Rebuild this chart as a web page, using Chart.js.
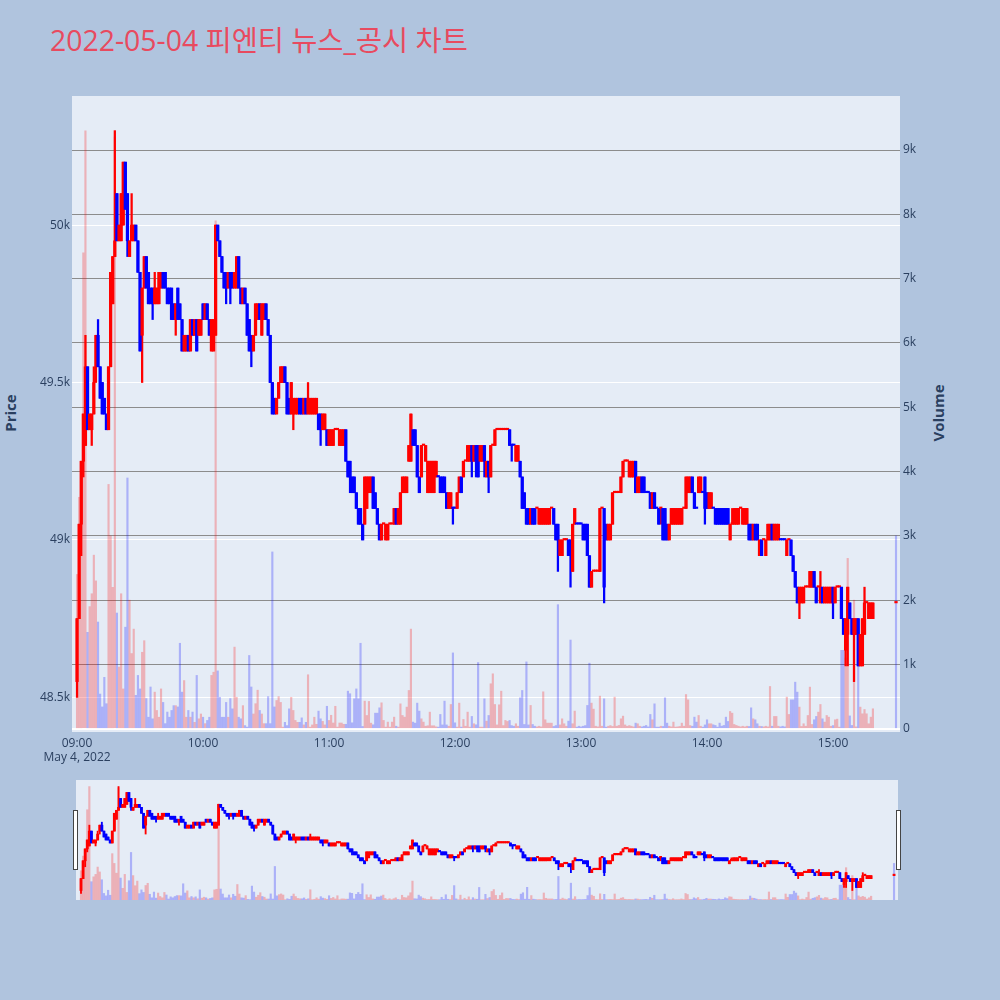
<!DOCTYPE html>
<html>
<head>
<meta charset="utf-8">
<script src="https://cdn.jsdelivr.net/npm/chart.js@4.4.0/dist/chart.umd.min.js"></script>
<style>
  html, body { margin:0; padding:0; width:1000px; height:1000px; overflow:hidden; background:#b0c4de;
               font-family:"Open Sans","Noto Sans CJK KR",sans-serif; }
  #title { position:absolute; left:50px; top:26px; font-size:28.4px; line-height:28px; color:#e84a5f; white-space:nowrap; }
  .axtitle { position:absolute; font-weight:bold; font-size:15px; color:#2a3f5f; white-space:nowrap;
             transform:translate(-50%,-50%) rotate(-90deg); }
  #main { position:absolute; left:0; top:0; }
  #slider { position:absolute; left:76px; top:780px; }
  .handle { position:absolute; top:810px; width:3px; height:58px; background:#fff; border:1px solid #444; }
</style>
</head>
<body>
<div id="title">2022-05-04 피엔티 뉴스_공시 차트</div>
<div class="axtitle" style="left:10px; top:413px;">Price</div>
<div class="axtitle" style="left:938px; top:413px;">Volume</div>
<canvas id="main" width="1000" height="780"></canvas>
<canvas id="slider" width="822" height="120"></canvas>
<div class="handle" style="left:73px;"></div>
<div class="handle" style="left:896px;"></div>
<script>
// one candle per minute from 09:00 (index = minutes after 09:00) up to 15:19
const openP = [
  48550,48750,49050,49250,49300,49550,49350,49350,49400,49550, // 09:00
  49650,49550,49500,49450,49400,49350,49550,49750,49900,50100,
  49950,49950,50000,50200,50100,49900,49950,49950,50000,49950,
  49850,49650,49800,49900,49850,49800,49800,49750,49750,49750,
  49800,49850,49850,49800,49800,49800,49750,49700,49800,49750,
  49700,49600,49600,49650,49600,49700,49650,49700,49650,49650,
  49750,49700,49750,49700,49600,49600,49650,50000,49950,49900, // 10:00
  49850,49850,49800,49850,49850,49800,49800,49900,49800,49750,
  49800,49750,49700,49650,49600,49650,49700,49750,49650,49700,
  49750,49700,49650,49500,49450,49400,49450,49500,49500,49550,
  49500,49450,49400,49400,49400,49400,49450,49450,49400,49450,
  49400,49400,49400,49400,49400,49400,49400,49350,49350,49350,
  49300,49300,49300,49350,49350,49300,49300,49300,49350,49250, // 11:00
  49250,49200,49200,49150,49100,49100,49050,49050,49100,49150,
  49150,49200,49150,49100,49050,49000,49050,49000,49000,49050,
  49050,49050,49100,49050,49050,49150,49150,49150,49250,49250,
  49350,49350,49300,49200,49200,49300,49250,49150,49150,49150,
  49150,49200,49200,49200,49200,49200,49150,49100,49100,49100,
  49100,49100,49150,49200,49200,49250,49250,49250,49300,49250, // 12:00
  49300,49300,49250,49250,49300,49200,49250,49200,49300,49300,
  49350,49350,49350,49350,49350,49350,49350,49300,49300,49250,
  49250,49250,49200,49150,49100,49100,49050,49100,49100,49100,
  49050,49050,49050,49050,49050,49050,49100,49100,49050,49050,
  48950,48950,49000,49000,49000,49000,48900,49050,49050,49050,
  49050,49050,49050,49050,48950,48850,48900,48900,48900,48900, // 13:00
  49100,49100,49050,49000,49000,49050,49150,49150,49150,49150,
  49200,49250,49250,49200,49200,49200,49250,49150,49150,49200,
  49200,49150,49150,49150,49100,49150,49100,49100,49100,49100,
  49100,49050,49000,49050,49050,49050,49050,49050,49050,49100,
  49100,49150,49150,49200,49150,49100,49150,49150,49150,49200,
  49150,49100,49100,49100,49100,49100,49100,49100,49100,49100, // 14:00
  49100,49000,49050,49050,49050,49050,49100,49050,49050,49050,
  49050,49050,49000,49050,49050,48950,49000,49000,48950,49000,
  49000,49050,49000,49000,49000,49000,49000,49000,48950,49000,
  49000,48950,48900,48850,48800,48800,48800,48850,48850,48850,
  48850,48900,48850,48850,48800,48850,48800,48800,48800,48800,
  48850,48800,48850,48850,48850,48750,48650,48700,48800,48750, // 15:00
  48700,48700,48750,48600,48600,48700,48800,48750,48750,48750
];
const highP = [
  48750,49050,49250,49400,49650,49550,49400,49400,49550,49650,
  49700,49550,49500,49450,49400,49550,49850,49900,50300,50100,
  50000,50100,50200,50200,50100,49950,50100,50000,50000,49950,
  49850,49800,49900,49900,49850,49800,49800,49850,49800,49850,
  49850,49850,49850,49800,49800,49800,49750,49750,49800,49750,
  49700,49650,49650,49650,49700,49700,49700,49700,49700,49700,
  49750,49750,49750,49700,49700,49700,50000,50000,49950,49900,
  49850,49850,49850,49850,49850,49850,49900,49900,49800,49800,
  49800,49750,49700,49650,49650,49750,49750,49750,49750,49750,
  49750,49700,49650,49500,49450,49450,49500,49550,49550,49550,
  49500,49450,49500,49450,49450,49450,49450,49450,49450,49450,
  49500,49450,49450,49450,49450,49400,49400,49400,49400,49350,
  49350,49350,49350,49350,49350,49350,49350,49350,49350,49250,
  49250,49200,49200,49150,49100,49100,49050,49200,49200,49200,
  49200,49200,49150,49100,49050,49050,49050,49050,49050,49050,
  49050,49100,49100,49100,49150,49200,49200,49200,49300,49400,
  49350,49350,49300,49200,49300,49300,49300,49250,49250,49250,
  49250,49250,49200,49200,49200,49200,49150,49150,49150,49100,
  49100,49150,49200,49200,49250,49250,49300,49300,49300,49300,
  49300,49300,49300,49300,49300,49250,49250,49300,49300,49350,
  49350,49350,49350,49350,49350,49350,49350,49300,49300,49300,
  49300,49250,49200,49150,49100,49100,49100,49100,49100,49100,
  49100,49100,49100,49100,49100,49100,49100,49100,49050,49050,
  49000,49000,49000,49000,49000,49000,49050,49100,49050,49050,
  49050,49050,49050,49050,48950,48900,48900,48900,48900,49100,
  49100,49100,49050,49050,49050,49150,49150,49150,49150,49200,
  49250,49250,49250,49250,49250,49250,49250,49200,49200,49200,
  49200,49150,49150,49150,49150,49150,49100,49100,49100,49100,
  49100,49050,49050,49100,49100,49100,49100,49100,49100,49100,
  49200,49200,49200,49200,49150,49100,49200,49200,49150,49200,
  49150,49150,49150,49100,49100,49100,49100,49100,49100,49100,
  49100,49050,49100,49100,49100,49100,49100,49100,49100,49100,
  49050,49050,49050,49050,49050,49000,49000,49000,49000,49050,
  49050,49050,49050,49050,49050,49000,49000,49000,49000,49000,
  49000,48950,48900,48850,48850,48850,48850,48850,48850,48900,
  48900,48900,48850,48850,48900,48850,48850,48850,48850,48850,
  48850,48850,48850,48850,48850,48750,48750,48850,48800,48750,
  48750,48750,48750,48700,48750,48850,48800,48800,48800,48800
];
const lowP = [
  48500,48750,48950,49200,49300,49350,49350,49300,49400,49500,
  49550,49450,49400,49400,49350,49350,49550,49750,49900,49950,
  49950,49950,50000,50050,49900,49900,49950,49950,49950,49850,
  49600,49500,49800,49800,49750,49750,49700,49750,49750,49750,
  49800,49800,49800,49750,49750,49700,49700,49650,49700,49700,
  49600,49600,49600,49600,49600,49650,49650,49600,49650,49650,
  49700,49700,49700,49650,49600,49600,49650,49950,49900,49850,
  49800,49750,49800,49750,49800,49800,49800,49800,49750,49750,
  49750,49650,49600,49550,49600,49650,49700,49700,49650,49700,
  49700,49650,49500,49400,49400,49400,49450,49500,49500,49500,
  49400,49400,49400,49350,49400,49400,49400,49400,49400,49400,
  49400,49400,49400,49400,49400,49350,49300,49350,49350,49300,
  49300,49300,49300,49350,49350,49300,49300,49300,49250,49200,
  49150,49150,49150,49100,49050,49050,49000,49050,49100,49150,
  49150,49100,49100,49050,49000,49000,49050,49000,49000,49050,
  49050,49050,49050,49050,49050,49150,49150,49150,49250,49250,
  49300,49300,49200,49150,49200,49300,49250,49150,49150,49150,
  49150,49200,49200,49150,49150,49150,49100,49100,49100,49050,
  49100,49100,49150,49150,49200,49250,49250,49250,49200,49250,
  49200,49200,49250,49250,49200,49200,49150,49200,49300,49300,
  49350,49350,49350,49350,49350,49350,49300,49250,49300,49250,
  49250,49200,49100,49100,49050,49050,49050,49050,49050,49100,
  49050,49050,49050,49050,49050,49050,49100,49050,49000,48900,
  48950,48950,49000,49000,48950,48850,48900,49050,49050,49050,
  49050,49000,49000,48950,48850,48850,48900,48900,48900,48900,
  49100,48800,49000,49000,49000,49050,49150,49150,49150,49150,
  49200,49250,49250,49200,49200,49200,49150,49150,49150,49150,
  49150,49150,49150,49100,49100,49100,49100,49050,49050,49000,
  49000,49000,49000,49050,49050,49050,49050,49050,49050,49100,
  49100,49150,49150,49150,49100,49100,49150,49150,49150,49050,
  49100,49100,49100,49100,49050,49050,49050,49050,49050,49050,
  49050,49000,49050,49050,49050,49050,49100,49050,49050,49050,
  49000,49000,49000,49000,49000,48950,48950,49000,48950,49000,
  49000,49000,49000,49000,49000,49000,49000,49000,48950,49000,
  48950,48900,48850,48800,48750,48800,48800,48850,48850,48850,
  48850,48850,48800,48850,48800,48800,48800,48800,48800,48800,
  48750,48800,48850,48850,48750,48700,48600,48600,48750,48700,
  48550,48700,48600,48600,48600,48700,48800,48750,48750,48750
];
const closeP = [
  48750,49050,49250,49400,49550,49350,49400,49400,49500,49650,
  49550,49450,49400,49400,49350,49550,49850,49900,49950,49950,
  50000,50100,50200,50050,49950,49950,50000,50000,49950,49850,
  49600,49800,49900,49800,49750,49750,49750,49800,49800,49850,
  49850,49800,49800,49750,49750,49700,49700,49750,49700,49700,
  49600,49650,49650,49600,49700,49650,49700,49600,49700,49700,
  49700,49750,49700,49650,49700,49700,50000,49950,49900,49850,
  49800,49800,49850,49800,49800,49850,49900,49800,49750,49800,
  49750,49650,49600,49600,49650,49750,49750,49700,49750,49750,
  49700,49650,49500,49400,49400,49450,49500,49550,49550,49500,
  49400,49400,49500,49450,49450,49450,49400,49400,49450,49400,
  49450,49450,49450,49450,49450,49350,49350,49400,49400,49300,
  49350,49350,49350,49350,49350,49350,49350,49350,49250,49200,
  49200,49150,49150,49100,49050,49050,49000,49200,49200,49200,
  49200,49100,49100,49050,49000,49050,49050,49050,49050,49050,
  49050,49100,49050,49100,49150,49200,49200,49200,49300,49400,
  49300,49300,49200,49150,49300,49300,49300,49250,49250,49250,
  49250,49250,49200,49150,49150,49150,49100,49150,49150,49100,
  49100,49150,49200,49150,49250,49250,49300,49300,49250,49300,
  49250,49200,49300,49300,49250,49250,49200,49300,49300,49350,
  49350,49350,49350,49350,49350,49350,49300,49300,49300,49300,
  49300,49200,49100,49100,49050,49050,49100,49050,49050,49100,
  49100,49100,49100,49100,49100,49100,49100,49050,49000,49000,
  49000,49000,49000,49000,48950,48950,49050,49100,49050,49050,
  49050,49000,49000,48950,48850,48900,48900,48900,48900,49100,
  49100,48850,49000,49050,49050,49150,49150,49150,49150,49200,
  49250,49250,49250,49250,49250,49250,49150,49200,49200,49150,
  49150,49150,49150,49100,49150,49100,49100,49050,49100,49000,
  49000,49000,49050,49100,49100,49100,49100,49100,49100,49100,
  49200,49200,49200,49150,49100,49100,49200,49200,49150,49100,
  49100,49150,49150,49100,49050,49050,49050,49050,49050,49050,
  49050,49050,49050,49100,49100,49100,49100,49100,49100,49100,
  49000,49000,49050,49000,49000,49000,48950,49000,49000,49050,
  49050,49000,49050,49050,49050,49000,49000,49000,49000,49000,
  48950,48900,48850,48800,48850,48850,48850,48850,48850,48900,
  48900,48850,48800,48850,48850,48800,48850,48850,48850,48850,
  48800,48850,48850,48850,48750,48700,48750,48850,48750,48700,
  48750,48750,48600,48700,48750,48800,48800,48800,48800,48800
];
const volume = [
  2400,3600,3200,7400,9300,1500,1900,2100,2700,2300,
  1660,540,340,800,390,3800,3000,2200,9200,1800,
  960,2100,620,1580,3900,2000,1170,1550,520,830,
  620,1190,1370,470,180,650,155,570,285,180,
  620,410,80,260,180,285,360,360,340,1330,
  570,750,180,285,180,260,100,830,155,230,
  180,80,130,180,830,880,7900,900,490,180,
  180,410,180,470,310,1270,490,180,155,360,
  50,26,1140,650,230,390,600,285,230,80,
  80,500,80,2750,340,440,500,410,26,100,
  50,310,490,285,130,100,100,170,60,100,
  840,26,60,180,70,275,155,115,60,350,
  130,210,90,350,26,90,90,70,70,585,
  545,93,466,620,466,1330,36,430,207,425,
  88,62,243,243,326,404,130,26,104,26,
  104,181,40,26,388,207,181,337,596,1550,
  104,88,399,275,155,104,40,47,259,47,
  47,30,26,223,60,430,60,40,378,1180,
  93,26,399,26,145,40,259,26,192,78,
  62,1030,26,26,466,119,207,700,855,378,
  60,373,585,50,130,114,130,50,40,78,
  40,482,596,67,1040,60,363,67,40,30,
  40,30,575,140,88,88,88,36,50,1930,
  60,155,78,40,119,1380,78,275,26,40,
  30,40,50,363,1020,399,306,40,30,508,
  40,466,26,40,50,36,492,40,52,155,
  197,60,40,50,40,30,88,78,40,30,
  40,52,30,223,140,388,26,26,40,36,
  482,88,40,30,104,26,30,36,88,40,
  533,450,50,40,181,104,207,40,26,60,
  140,78,78,62,52,26,88,41,52,181,
  114,269,243,67,52,40,30,40,30,40,
  36,326,155,140,78,40,36,30,40,30,
  658,40,192,192,40,30,40,30,492,223,
  450,450,725,570,337,36,78,40,207,648,
  67,140,192,259,378,155,104,207,181,40,
  50,140,150,26,1220,1220,1100,2650,200,52,
  2000,30,1200,337,233,300,233,78,181,311
];
// closing auction print at 15:30
const auction = { minute: 390, open: 48800, high: 48800, low: 48800, close: 48800, volume: 3000, falling: true };

const hourTicks = [0, 60, 120, 180, 240, 300, 360];
const hourLabels = ['09:00', '10:00', '11:00', '12:00', '13:00', '14:00', '15:00'];
const dateLabel = 'May 4, 2022';
const priceTicks = [48500, 49000, 49500, 50000];
const priceLabels = ['48.5k', '49k', '49.5k', '50k'];
const volumeTicks = [0, 1000, 2000, 3000, 4000, 5000, 6000, 7000, 8000, 9000];
const volumeLabels = ['0', '1k', '2k', '3k', '4k', '5k', '6k', '7k', '8k', '9k'];

const xMin = -2.4, xMax = 391.9;
const priceMin = 48390, priceMax = 50410;
const volMin = -50, volMax = 9840;

const upColor = 'rgb(255,0,0)', downColor = 'rgb(0,0,255)';
const upVol = 'rgba(255,0,0,0.25)', downVol = 'rgba(0,0,255,0.25)';
const tickColor = '#2a3f5f';
const fontFamily = '"Open Sans", "Noto Sans CJK KR", sans-serif';

const xs = openP.map((_, i) => i).concat([auction.minute]);
const O = openP.concat([auction.open]);
const H = highP.concat([auction.high]);
const L = lowP.concat([auction.low]);
const C = closeP.concat([auction.close]);
const V = volume.concat([auction.volume]);

// direction: close vs open, flat candles follow the previous close / previous direction
const dir = [];
for (let i = 0; i < O.length; i++) {
  if (C[i] > O[i]) dir.push(1);
  else if (C[i] < O[i]) dir.push(-1);
  else if (i > 0 && C[i] > C[i - 1]) dir.push(1);
  else if (i > 0 && C[i] < C[i - 1]) dir.push(-1);
  else dir.push(i > 0 ? dir[i - 1] : 1);
}
const volDir = dir.slice();
volDir[volDir.length - 1] = auction.falling ? -1 : 1;

function makeDatasets(wickW, bodyW) {
  const wick = [], wickColors = [], body = [], vol = [];
  for (let i = 0; i < xs.length; i++) {
    if (H[i] > L[i]) {
      wick.push({ x: xs[i], y: [L[i], H[i]] });
      wickColors.push(dir[i] > 0 ? upColor : downColor);
    }
    body.push({ x: xs[i], y: [O[i], C[i]] });
    vol.push({ x: xs[i], y: V[i] });
  }
  return [
    { label: 'Volume', data: vol, yAxisID: 'y2', order: 3, grouped: false, barThickness: 1.5,
      backgroundColor: volDir.map(d => d > 0 ? upVol : downVol) },
    { label: 'wick', data: wick, yAxisID: 'y', order: 2, grouped: false, barThickness: wickW,
      backgroundColor: wickColors },
    { label: 'Price', data: body, yAxisID: 'y', order: 1, grouped: false, barThickness: bodyW, minBarLength: 1.5,
      backgroundColor: dir.map(d => d > 0 ? upColor : downColor) }
  ];
}

const plotBg = {
  id: 'plotBg',
  beforeDraw(chart) {
    const a = chart.chartArea, ctx = chart.ctx;
    ctx.save();
    ctx.fillStyle = '#e5ecf6';
    ctx.fillRect(a.left, a.top, a.right - a.left, a.bottom - a.top);
    ctx.restore();
  }
};

const tickFont = { family: fontFamily, size: 12 };

new Chart(document.getElementById('main'), {
  type: 'bar',
  data: { datasets: makeDatasets(1.6, 2.6) },
  options: {
    responsive: false,
    animation: false,
    devicePixelRatio: 1,
    layout: { padding: { top: 96, left: 0, right: 0, bottom: 0 } },
    plugins: { legend: { display: false }, tooltip: { enabled: false } },
    scales: {
      x: {
        type: 'linear', min: xMin, max: xMax, offset: false,
        grid: { display: false, drawTicks: false }, border: { display: false },
        ticks: {
          autoSkip: false, maxRotation: 0, padding: 4, color: tickColor, font: tickFont,
          callback: (v, i) => i === 0 ? [hourLabels[0], dateLabel] : hourLabels[i]
        },
        afterBuildTicks: s => { s.ticks = hourTicks.map(v => ({ value: v })); },
        afterFit: s => { s.height = 48; }
      },
      y: {
        position: 'left', min: priceMin, max: priceMax,
        grid: { color: '#ffffff', lineWidth: 1, drawTicks: false }, border: { display: false },
        ticks: { padding: 2, color: tickColor, font: tickFont, callback: (v, i) => priceLabels[i] },
        afterBuildTicks: s => { s.ticks = priceTicks.map(v => ({ value: v })); },
        afterFit: s => { s.width = 72; }
      },
      y2: {
        position: 'right', min: volMin, max: volMax,
        grid: {
          drawTicks: false,
          color: c => c.tick && c.tick.value === 0 ? '#ffffff' : '#8c8c8c',
          lineWidth: c => c.tick && c.tick.value === 0 ? 2 : 1
        },
        border: { display: false },
        ticks: { padding: 3, color: tickColor, font: tickFont, callback: (v, i) => volumeLabels[i] },
        afterBuildTicks: s => { s.ticks = volumeTicks.map(v => ({ value: v })); },
        afterFit: s => { s.width = 100; }
      }
    }
  },
  plugins: [plotBg]
});

// range slider overview
new Chart(document.getElementById('slider'), {
  type: 'bar',
  data: { datasets: makeDatasets(1.2, 2.2) },
  options: {
    responsive: false,
    animation: false,
    devicePixelRatio: 1,
    layout: { padding: 0 },
    plugins: { legend: { display: false }, tooltip: { enabled: false } },
    scales: {
      x: { type: 'linear', min: xMin, max: xMax, offset: false, display: false },
      y: { min: priceMin, max: priceMax, display: false },
      y2: { min: 0, max: volMax, display: false }
    }
  },
  plugins: [plotBg]
});
</script>
</body>
</html>
